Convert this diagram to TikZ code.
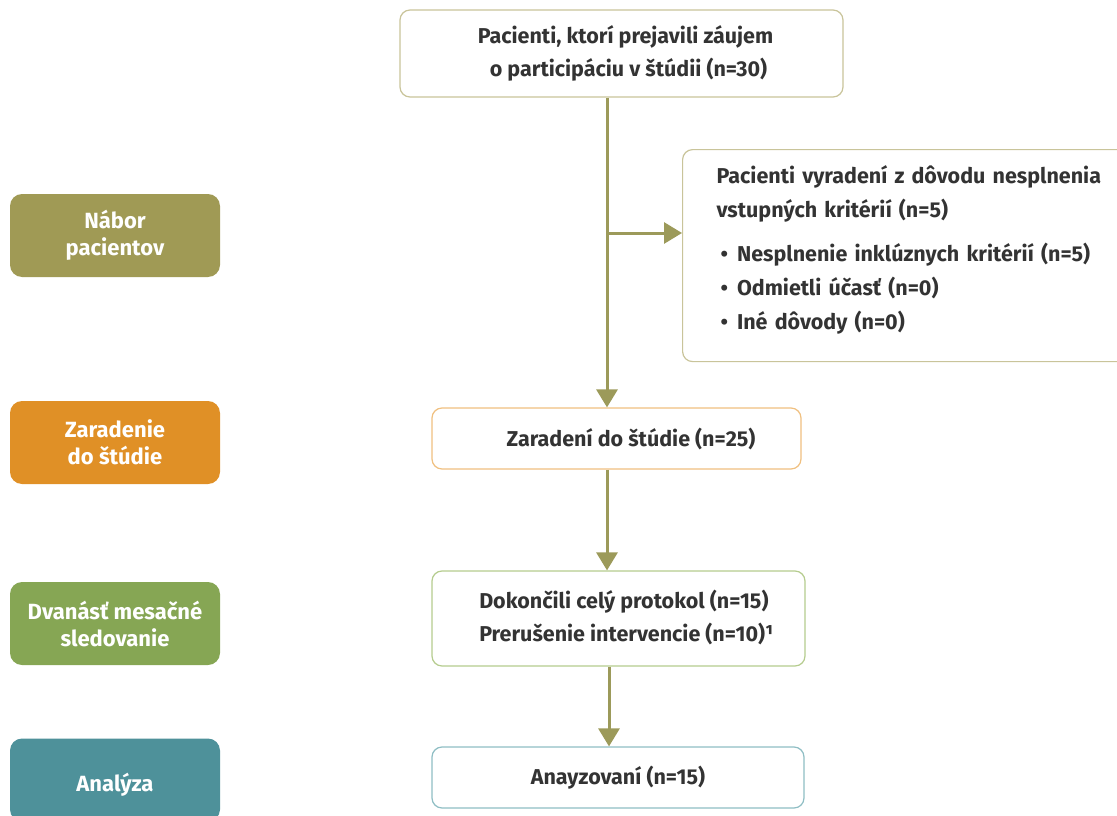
\documentclass[tikz,border=0pt]{standalone}
\usepackage{fontspec}
\setmainfont{Fira Sans}
\usetikzlibrary{arrows.meta}
\definecolor{phaseolive}{RGB}{160,154,85}
\definecolor{phaseorange}{RGB}{224,144,38}
\definecolor{phasegreen}{RGB}{134,166,84}
\definecolor{phaseteal}{RGB}{78,145,154}
\definecolor{lineolive}{RGB}{201,196,154}
\definecolor{lineorange}{RGB}{240,192,128}
\definecolor{linegreen}{RGB}{181,204,142}
\definecolor{lineteal}{RGB}{143,190,196}
\definecolor{arrowcol}{RGB}{156,154,90}
\definecolor{txtgray}{RGB}{51,51,51}

\begin{document}
\begin{tikzpicture}[x=1pt,y=-1pt,
  phase/.style={rounded corners=12pt,minimum width=210pt,minimum height=83pt,
    inner sep=0pt,text=white,align=center,font=\fontsize{22}{27}\selectfont\bfseries},
  flowbox/.style={draw,line width=1.2pt,rounded corners=10pt,fill=white,inner sep=0pt,
    text=txtgray,align=center,font=\fontsize{21.5}{33}\selectfont\bfseries},
  flowarrow/.style={draw=arrowcol,line width=3pt,-{Triangle[length=18pt,width=21pt]}}]
\clip (0,0) rectangle (1117,816);
% phases on the left
\node[phase,fill=phaseolive] (nabor) at (115,235.5) {Nábor\\pacientov};
\node[phase,fill=phaseorange] (zaradenie) at (115,442.5) {Zaradenie\\do štúdie};
\node[phase,fill=phasegreen] (sledovanie) at (115,623.5) {Dvanásť mesačné\\sledovanie};
\node[phase,fill=phaseteal] (analyza) at (115,780) {\raisebox{-11pt}[0pt][0pt]{Analýza}};
% flow boxes
\node[flowbox,draw=lineolive,minimum width=443pt,minimum height=87pt] (zaujem) at (621.5,53.5)
  {\hspace*{8pt}Pacienti, ktorí prejavili záujem\\\hspace*{14pt}o participáciu v štúdii (n=30)};
\node[flowbox,draw=lineolive,anchor=north west,align=left,text width=400pt,
  inner xsep=34pt,minimum height=212pt] (vyradeni) at (682,149)
  {\begin{tabular}{@{}l@{}}Pacienti vyradení z dôvodu nesplnenia\\[1pt]vstupných kritérií (n=5)\\[11pt]
   \hspace*{4pt}\textbullet\hspace{9pt}Nesplnenie inklúznych kritérií (n=5)\\[1pt]
   \hspace*{4pt}\textbullet\hspace{9pt}Odmietli účasť (n=0)\\[1pt]
   \hspace*{4pt}\textbullet\hspace{9pt}Iné dôvody (n=0)\\[12pt]\end{tabular}};
\node[flowbox,draw=lineorange,minimum width=369pt,minimum height=61pt] (zaradeni) at (616.5,438.5)
  {\hspace*{29pt}Zaradení do štúdie (n=25)};
\node[flowbox,draw=linegreen,minimum width=373pt,minimum height=95pt] (protokol) at (618.5,618.5)
  {\begin{tabular}{@{\hspace*{16pt}}l@{}}Dokončili celý protokol (n=15)\\[0pt]Prerušenie intervencie (n=10)¹\end{tabular}};
\node[flowbox,draw=lineteal,minimum width=372pt,minimum height=61pt] (analyzovani) at (618,777.5)
  {Anayzovaní (n=15)};
% connectors
\coordinate (spine) at (607,0);
\coordinate (spinelow) at (609,0);
\coordinate (branch) at (607,233);
\draw[flowarrow] (zaujem.south -| spine) -- (zaradeni.north -| spine);
\draw[flowarrow] (branch) -- (branch -| vyradeni.west);
\draw[flowarrow] (zaradeni.south -| spine) -- (protokol.north -| spine);
\draw[flowarrow] (protokol.south -| spinelow) -- (analyzovani.north -| spinelow);
\end{tikzpicture}
\end{document}
